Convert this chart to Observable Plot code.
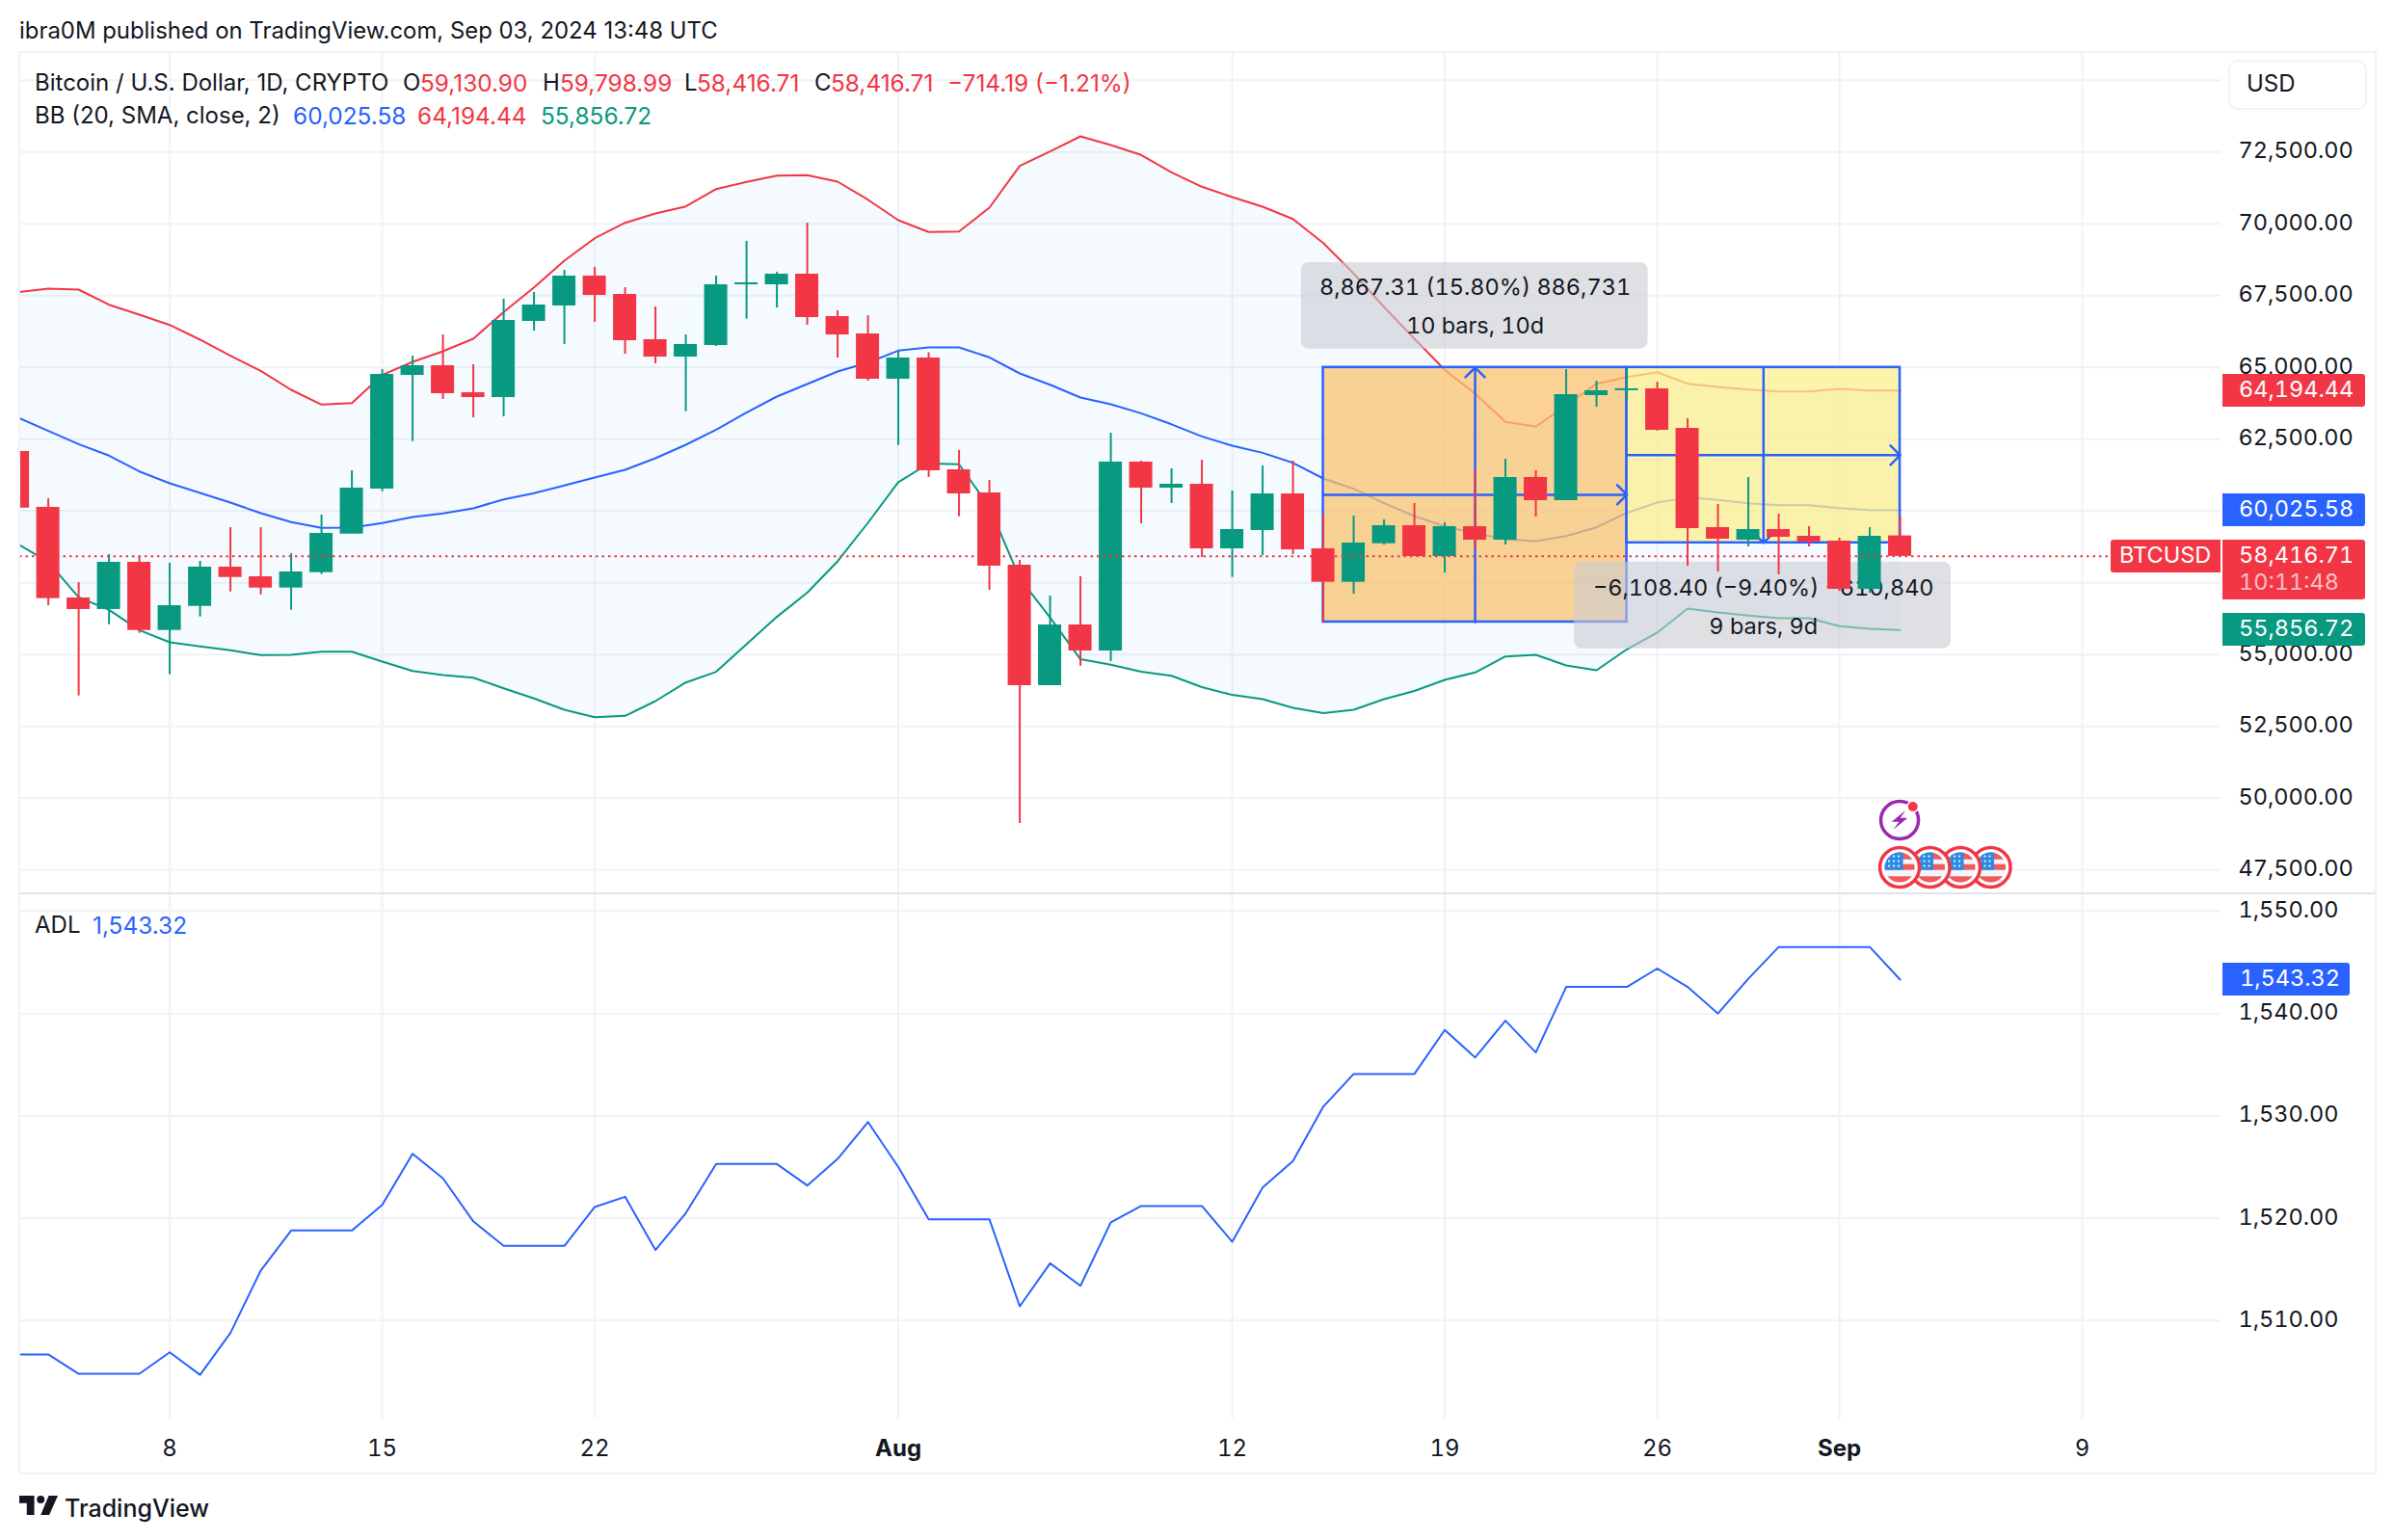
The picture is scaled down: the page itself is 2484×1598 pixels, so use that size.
<!DOCTYPE html>
<html><head><meta charset="utf-8">
<script src="https://cdn.jsdelivr.net/npm/d3@7"></script>
<script src="https://cdn.jsdelivr.net/npm/@observablehq/plot@0.6"></script>
<style>
html,body{margin:0;padding:0;background:#fff}
#page{position:relative;width:2484px;height:1598px;overflow:hidden;background:#fff;font-family:Inter,"Noto Sans",sans-serif;color:#131722;font-size:24px}
#page svg{position:absolute;left:0;overflow:visible}
#page svg text{font-variant-numeric:tabular-nums}
</style></head><body><div id="page"></div>
<script>
const startDay = Date.UTC(2024, 6, 3);
const dayMs = 864e5;
const open = [62071,60124,56969,56567,58211,55838,56677,58043,57707,57315,57852,59194,60762,64722,65058,64118,63950,66602,67140,68180,67542,65965,65360,65763,67878,67878,68246,66770,66166,64588,65327,61433,60628,58110,53915,56029,55123,61702,60795,60930,58681,59318,60594,58681,57516,58859,59486,58412,59453,58983,61165,60359,64018,64190,64253,62876,59419,58983,59352,59117,58950,57271,59130.90];
const high = [62100,60426,57506,58480,58420,58177,58245,59419,59419,58513,59856,61399,64924,65394,66132,65092,67374,67609,68381,68482,67776,67106,66132,68180,69388,68313,70026,66971,66803,65595,65512,62108,61064,58278,57036,57707,62709,61735,61467,61769,60695,61567,61735,59856,59822,59688,60258,59587,61400,61802,61400,64924,64521,64991,64488,63212,60225,61165,59889,59453,59050,59419,59798.99];
const low = [60100,56700,53556,56040,55737,54294,56308,57180,57080,56543,57785,59194,60671,62417,63883,63246,63280,66266,65797,66569,65461,65125,63457,65730,66680,67072,66468,65327,64521,62283,61165,59799,57238,49115,53915,54596,54754,59554,60258,58379,57687,58446,58480,56130,57103,58815,58412,57842,58647,58815,59789,60359,63615,63850,62780,58077,57875,58748,57775,58748,57200,57137,58416.71];
const close = [60100,56946,56567,58211,55838,56700,58043,57684,57315,57875,59218,60795,64756,65058,64085,63950,66636,67173,68180,67508,65931,65360,65797,67878,67945,68246,66736,66132,64588,65327,61399,60594,58077,53915,56029,55123,61702,60795,60930,58681,59352,60594,58647,57516,58882,59486,58412,59453,58983,61165,60359,64051,64186,64255,62809,59386,59017,59352,59084,58916,57271,59117,58416.71];
const bbUpper = [67619,67743,67710,67183,66837,66478,65965,65404,64880,64219,63706,63759,64733,65192,65562,65998,66928,67787,68717,69499,70036,70361,70607,71211,71459,71681,71694,71469,70841,70127,69714,69734,70563,72016,72520,73047,72745,72399,71795,71291,70932,70597,70170,69331,68270,67106,65998,64914,64085,63101,62934,63682,64431,64665,64833,64431,64320,64229,64162,64162,64253,64196,64194.44];
const bbBasis = [63256,62786,62329,61927,61376,60963,60628,60292,59923,59611,59409,59419,59577,59789,59913,60091,60403,60618,60886,61165,61433,61836,62306,62830,63427,63984,64420,64857,65166,65585,65696,65696,65350,64790,64394,63951,63716,63400,63017,62595,62272,62024,61675,61131,60772,60269,59822,59463,59228,59006,58949,59127,59429,59933,60292,60470,60383,60269,60201,60201,60101,60034,60025.58];
const bbLower = [58849,58221,56993,56556,55851,55425,55281,55146,54979,54989,55100,55100,54754,54428,54284,54193,53824,53468,53076,52817,52864,53378,54025,54398,55358,56311,57154,58245,59587,61004,61651,61625,60134,57650,56284,54834,54646,54398,54260,53864,53592,53445,53143,52958,53076,53445,53730,54116,54375,54932,54989,54620,54452,55180,55761,56600,56466,56355,56264,56264,55986,55895,55856.72];
const adl = [1506.7,1506.7,1504.8,1504.8,1504.8,1506.9,1504.7,1508.8,1514.9,1518.8,1518.8,1518.8,1521.3,1526.3,1523.9,1519.7,1517.3,1517.3,1517.3,1521.1,1522.1,1516.9,1520.5,1525.3,1525.3,1525.3,1523.2,1525.8,1529.4,1525.0,1519.9,1519.9,1519.9,1511.4,1515.6,1513.4,1519.6,1521.2,1521.2,1521.2,1517.7,1523.0,1525.6,1530.9,1534.1,1534.1,1534.1,1538.4,1535.7,1539.3,1536.2,1542.6,1542.6,1542.6,1544.4,1542.6,1540.0,1543.4,1546.5,1546.5,1546.5,1546.5,1543.32];

const priceTicks = [47500,50000,52500,55000,57500,60000,62500,65000,67500,70000,72500];
const priceGrid = [...priceTicks, 75000];
const adlTicks = [1510,1520,1530,1540,1550];
const dayTicks = ["2024-07-08","2024-07-15","2024-07-22","2024-08-12","2024-08-19","2024-08-26","2024-09-09"].map(s => new Date(s));
const monthTicks = ["2024-08-01","2024-09-01"].map(s => new Date(s));
const eventFlags = ["2024-09-03","2024-09-04","2024-09-05","2024-09-06"].map(s => new Date(s));

const last = {price:58416.71, upper:64194.44, basis:60025.58, lower:55856.72, adl:1543.32};

// measure tool values
const box = {t0:new Date("2024-08-15"), t1:new Date("2024-08-25"), t2:new Date("2024-09-03"),
  top:64997.31, bottom:56130, yBottom:58888.91};

const colors = {up:"#089981", down:"#F23645", blue:"#2962FF", frame:"#F0F3FA", grid:"#F1F2F6", ink:"#131722"};

const bars = open.map((o,i)=>({date:new Date(startDay+i*dayMs), open:o, high:high[i], low:low[i], close:close[i],
  upper:bbUpper[i], basis:bbBasis[i], lower:bbLower[i], adl:adl[i],
  color: close[i]>=o ? colors.up : colors.down}));

const shift = (t,d)=>new Date(+t+d*dayMs);
const halfBar = 0.381;
const xDomain = [shift(new Date("2024-07-08"),-4.94), shift(new Date("2024-07-08"),67.57)];
const xOpt = {type:"utc", domain:xDomain, range:[20,2304], axis:null};

const rangeBoxes = [
 {x1:box.t0,x2:box.t1,y1:box.bottom,y2:box.top,fill:"#FAC370"},
 {x1:box.t1,x2:box.t2,y1:box.yBottom,y2:box.top,fill:"#FCEF8E"}
];
const midO=(box.top+box.bottom)/2, midY=(box.top+box.yBottom)/2;
const arrows = [
 {x1:shift(box.t0,5),x2:shift(box.t0,5),y1:box.bottom,y2:box.top},
 {x1:box.t0,x2:box.t1,y1:midO,y2:midO},
 {x1:shift(box.t1,4.5),x2:shift(box.t1,4.5),y1:box.top,y2:box.yBottom},
 {x1:box.t1,x2:box.t2,y1:midY,y2:midY}
];
const labelBoxes = [
 {x1:shift(box.t0,-0.72),x2:shift(box.t0,10.70),y1:65639,y2:68649},
 {x1:shift(box.t1,-1.73),x2:shift(box.t1,10.68),y1:55200,y2:58221}
];
const labelTexts = [
 {x:shift(box.t0,5),y:67770,s:"8,867.31 (15.80%) 886,731"},
 {x:shift(box.t0,5),y:66440,s:"10 bars, 10d"},
 {x:shift(box.t1,4.5),y:57310,s:"\u22126,108.40 (\u22129.40%) \u2212610,840"},
 {x:shift(box.t1,4.5),y:55970,s:"9 bars, 9d"}
];

const fmt2 = d3.format(",.2f");
const page = document.getElementById("page");
const font = 'Inter,"Noto Sans",sans-serif';

const main = Plot.plot({
  width:2484,height:872,marginLeft:20,marginRight:180,marginTop:0,marginBottom:0,
  x:xOpt,
  y:{domain:[46698,75967],range:[872,0],axis:null},
  color:{type:"identity"},
  style:{fontFamily:font,background:"transparent"},
  marks:[
    Plot.ruleY(priceGrid,{stroke:colors.grid,strokeWidth:2}),
    Plot.ruleX([...dayTicks,...monthTicks],{stroke:colors.grid,strokeWidth:2}),
    Plot.areaY(bars,{x:"date",y1:"upper",y2:"lower",fill:"#2196F3",fillOpacity:0.05,clip:true}),
    Plot.line(bars,{x:"date",y:"upper",stroke:colors.down,strokeWidth:2,clip:true}),
    Plot.line(bars,{x:"date",y:"basis",stroke:colors.blue,strokeWidth:2,clip:true}),
    Plot.line(bars,{x:"date",y:"lower",stroke:colors.up,strokeWidth:2,clip:true}),
    Plot.rect(rangeBoxes,{x1:"x1",x2:"x2",y1:"y1",y2:"y2",fill:"fill",fillOpacity:0.75,stroke:colors.blue,strokeWidth:2.5}),
    Plot.arrow(arrows,{x1:"x1",x2:"x2",y1:"y1",y2:"y2",stroke:colors.blue,strokeWidth:2.5,headLength:8.5,headAngle:90}),
    Plot.rect(labelBoxes,{x1:"x1",x2:"x2",y1:"y1",y2:"y2",fill:"rgb(202,203,210)",fillOpacity:0.6,rx:8}),
    Plot.text(labelTexts,{x:"x",y:"y",text:"s",fontSize:23.5,fill:colors.ink,fontFamily:font}),
    Plot.ruleX(bars,{x:"date",y1:"low",y2:"high",stroke:"color",strokeWidth:2,clip:true}),
    Plot.rect(bars,{x1:d=>shift(d.date,-halfBar),x2:d=>shift(d.date,halfBar),y1:"open",y2:"close",fill:"color",clip:true}),
    Plot.ruleY([last.price],{x1:xDomain[0],x2:shift(new Date("2024-07-08"),63.95),stroke:colors.down,strokeWidth:2,strokeDasharray:"2.5,4"}),
    Plot.axisY(priceTicks,{anchor:"right",tickSize:0,tickPadding:18,tickFormat:fmt2,fontSize:23.5,fill:colors.ink,label:null,dy:-1})
  ]
});
main.style.top="54px";
page.appendChild(main);

const lower = Plot.plot({
  width:2484,height:602,marginLeft:20,marginRight:180,marginTop:0,marginBottom:56,
  x:xOpt,
  y:{domain:[1500.38,1551.79],range:[546,0],axis:null},
  style:{fontFamily:font,background:"transparent"},
  marks:[
    Plot.ruleY(adlTicks,{stroke:colors.grid,strokeWidth:2}),
    Plot.ruleX([...dayTicks,...monthTicks],{stroke:colors.grid,strokeWidth:2}),
    Plot.line(bars,{x:"date",y:"adl",stroke:colors.blue,strokeWidth:2,clip:true}),
    Plot.axisY(adlTicks,{anchor:"right",tickSize:0,tickPadding:18,tickFormat:fmt2,fontSize:23.5,fill:colors.ink,label:null,dy:-1}),
    Plot.axisX(dayTicks,{anchor:"bottom",tickSize:0,tickPadding:21,tickFormat:d=>String(d.getUTCDate()),fontSize:24,fill:colors.ink,label:null}),
    Plot.axisX(monthTicks,{anchor:"bottom",tickSize:0,tickPadding:21,tickFormat:d=>d3.utcFormat("%b")(d),fontSize:24,fontWeight:700,fill:colors.ink,label:null})
  ]
});
lower.style.top="926px";
page.appendChild(lower);

// frame and separator
function div(css,html){const e=document.createElement("div");e.style.cssText=css;if(html)e.innerHTML=html;page.appendChild(e);return e;}
div(`position:absolute;left:19px;top:53px;width:2443px;height:1473px;border:2px solid ${colors.frame}`);
div("position:absolute;left:20px;top:926px;width:2444px;height:2px;background:#E0E3EB");

function txt(x,y,s,color,size,extra){div(`position:absolute;left:${x}px;top:${y}px;transform:translateY(-50%);white-space:nowrap;line-height:1;color:${color||colors.ink};font-size:${size||24}px;${extra||""}`,s);}

txt(20,32,"ibra0M published on TradingView.com, Sep 03, 2024 13:48 UTC",colors.ink,23.9);
const legend1 = [[36,"Bitcoin / U.S. Dollar, 1D, CRYPTO",colors.ink,24],[418,"O",colors.ink,24],[436,"59,130.90",colors.down,24.4],[563,"H",colors.ink,24],[581,"59,798.99",colors.down,24.4],[710,"L",colors.ink,24],[723,"58,416.71",colors.down,24.4],[845,"C",colors.ink,24],[862,"58,416.71",colors.down,24.4],[983,"\u2212714.19 (\u22121.21%)",colors.down,24.4]];
legend1.forEach(([x,s,c,f])=>txt(x,86,s,c,f));
const legend2 = [[36,"BB (20, SMA, close, 2)",colors.ink,24],[304,"60,025.58",colors.blue,24.4],[433,"64,194.44",colors.down,24.4],[561,"55,856.72",colors.up,24.4]];
legend2.forEach(([x,s,c,f])=>txt(x,120,s,c,f));
txt(36,960,"ADL",colors.ink,24);
txt(96,960,"1,543.32",colors.blue,24.4);

// USD box
div(`position:absolute;left:2312px;top:62px;width:144px;height:52px;box-sizing:border-box;border:2px solid ${colors.frame};border-radius:10px;background:#fff`);
txt(2331,87,"USD",colors.ink,24);

// value tags
const yMain = v=>54+main.scale("y").apply(v);
const yLow = v=>926+lower.scale("y").apply(v);
function tag(x,w,y,h,bg,radius){
  return div(`position:absolute;left:${x}px;top:${y-h/2}px;width:${w}px;height:${h}px;background:${bg};border-radius:${radius}`);
}
function tagText(x,y,s,op){txt(x,y,s,op?`rgba(255,255,255,${op})`:"#fff",23.5,"font-variant-numeric:tabular-nums;");}
[[last.upper,colors.down],[last.basis,colors.blue],[last.lower,colors.up]].forEach(([v,c])=>{
  const y=yMain(v); tag(2306,148,y,34,c,"0 3px 3px 0"); tagText(2323,y-1,fmt2(v));
});
const yp=yMain(last.price);
div(`position:absolute;left:2306px;top:${yp-17}px;width:148px;height:62px;background:${colors.down};border-radius:0 3px 3px 0`);
tagText(2323,yp-1,fmt2(last.price));
tagText(2323,yp+27,"10:11:48",0.7);
div(`position:absolute;left:2190px;top:${yp-17}px;width:114px;height:34px;background:${colors.down};border-radius:3px 0 0 3px`);
tagText(2199,yp-1,"BTCUSD");
const ya=yLow(last.adl);
tag(2306,132,ya,34,colors.blue,"0 3px 3px 0"); tagText(2324,ya-1,fmt2(last.adl));

// watermark
div("position:absolute;left:20px;top:1552px;width:40px;height:20px",
 `<svg viewBox="0 0 36 18" width="40" height="20" style="position:static;display:block"><path fill="#131722" d="M14 18H7V7H0V0h14zM28 18h-8L27.5 0h8.5z"/><circle cx="20" cy="3.6" r="3.6" fill="#131722"/></svg>`);
txt(67,1565,"TradingView",colors.ink,25,"font-weight:500;");

// event icons
const xs = d=>main.scale("x").apply(d);
const NS="http://www.w3.org/2000/svg";
let inner="<defs>";
eventFlags.forEach((d,i)=>{inner+=`<clipPath id="fc${i}"><circle cx="${xs(d)}" cy="900" r="15.5"/></clipPath>`;});
inner+="</defs>";
[...eventFlags.keys()].reverse().forEach(i=>{
  const cx=xs(eventFlags[i]),cy=900;
  inner+=`<circle cx="${cx}" cy="${cy}" r="20.5" fill="#fff" stroke="${colors.down}" stroke-width="3.5"/>`;
  inner+=`<g clip-path="url(#fc${i})"><rect x="${cx-17}" y="${cy-17}" width="34" height="34" fill="#F2F4FF"/>`;
  [[-17,8.7],[-3.3,6],[9.3,8]].forEach(([a,h])=>{inner+=`<rect x="${cx-17}" y="${cy+a}" width="34" height="${h}" fill="#F05A5A"/>`;});
  inner+=`<rect x="${cx-17}" y="${cy-17}" width="20.5" height="19.7" fill="#2B8BE5"/>`;
  for(const r of [-11.5,-6.5,-1.5]) for(const c of [-11,-6,-1]) inner+=`<circle cx="${cx+c}" cy="${cy+r}" r="1.1" fill="#fff"/>`;
  inner+="</g>";
});
const bx=xs(eventFlags[0]),by=851;
inner+=`<circle cx="${bx}" cy="${by}" r="19.5" fill="#fff" stroke="#9C27B0" stroke-width="3.5"/>`;
inner+=`<path transform="translate(${bx},${by})" d="M6-10-8.3 1.7H-.7L-6.7 10 8.3-2.3H.7Z" fill="#9C27B0"/>`;
inner+=`<circle cx="${bx+13.7}" cy="${by-14}" r="6.5" fill="#fff"/><circle cx="${bx+13.7}" cy="${by-14}" r="5" fill="${colors.down}"/>`;
const ov=document.createElementNS(NS,"svg");
ov.setAttribute("width","2484");ov.setAttribute("height","1598");ov.style.top="0";ov.style.pointerEvents="none";
ov.innerHTML=inner;page.appendChild(ov);
</script></body></html>
